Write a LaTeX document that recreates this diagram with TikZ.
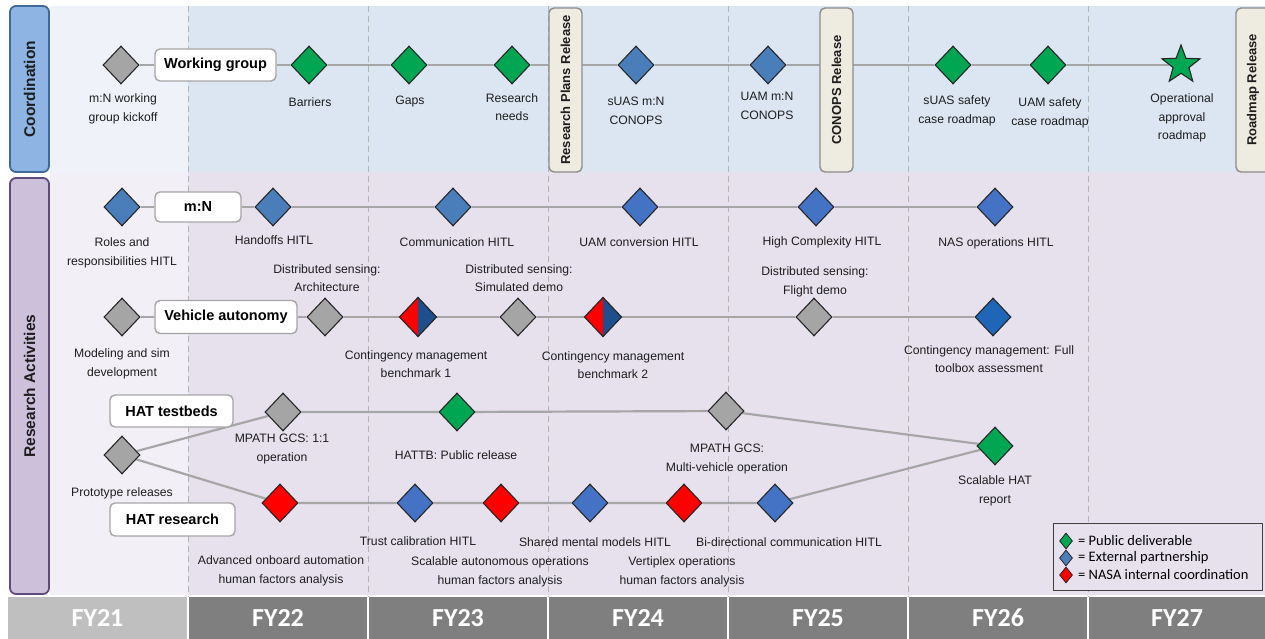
\documentclass[tikz,border=0pt]{standalone}
\usepackage{fontspec}
\setmainfont{Liberation Sans}
\newfontfamily\calib{Carlito}
\usetikzlibrary{shapes.geometric}
\pgfdeclarelayer{back}
\pgfdeclarelayer{lines}
\pgfsetlayers{back,lines,main}
\definecolor{coordFY}{HTML}{EFF2F8}
\definecolor{coordBg}{HTML}{DCE6F2}
\definecolor{resFY}{HTML}{F2F0F6}
\definecolor{resBg}{HTML}{E6E1ED}
\definecolor{coordfill}{HTML}{8DB4E2}
\definecolor{coordbd}{HTML}{41689A}
\definecolor{resfill}{HTML}{CCC0DA}
\definecolor{resbd}{HTML}{5F4B7B}
\definecolor{relfill}{HTML}{EEECE1}
\definecolor{relbd}{HTML}{8C8C8C}
\definecolor{tagbd}{HTML}{A6A6A6}
\definecolor{mgreen}{HTML}{00A651}
\definecolor{mblue}{HTML}{4A7EBB}
\definecolor{mblueb}{HTML}{4472C4}
\definecolor{mbluec}{HTML}{1F66B8}
\definecolor{mgray}{HTML}{A5A5A5}
\definecolor{mred}{HTML}{FF0000}
\definecolor{dblue}{HTML}{1F4E8C}
\definecolor{outl}{HTML}{262626}
\definecolor{lgray}{HTML}{A6A6A6}
\definecolor{dashc}{HTML}{B4B4B4}
\definecolor{txt}{HTML}{1E1E1E}
\definecolor{barlight}{HTML}{BFBFBF}
\definecolor{bardark}{HTML}{7F7F7F}
\definecolor{legbd}{HTML}{404040}
\newcommand{\lblfont}{\fontsize{12.2}{18.5}\selectfont}
\newcommand{\tagfont}{\bfseries\fontsize{14.5}{16}\selectfont}
\newcommand{\relfont}{\bfseries\fontsize{13}{15}\selectfont}
\newcommand{\sidefont}{\bfseries\fontsize{15.5}{17}\selectfont}
\newcommand{\fyfont}{\calib\bfseries\fontsize{26}{27}\selectfont}
\newcommand{\legfont}{\calib\fontsize{14.5}{16}\selectfont}
\begin{document}
\begin{tikzpicture}[x=1pt,y=-1pt,
  dia/.style={diamond, inner sep=0pt, minimum width=36pt, minimum height=38pt, draw=outl, line width=1.1pt},
  gd/.style={dia, fill=mgreen},
  bd/.style={dia, fill=mblue},
  bdb/.style={dia, fill=mblueb},
  yd/.style={dia, fill=mgray},
  rd/.style={dia, fill=mred},
  sd/.style={dia},
  lbl/.style={align=center, font=\lblfont, text=txt, inner sep=0pt},
  tag/.style={draw=tagbd, fill=white, line width=1.4pt, rounded corners=5pt, font=\tagfont, inner sep=0pt, text=black},
  rel/.style={draw=relbd, fill=relfill, line width=1.4pt, rounded corners=5pt, rotate=90, font=\relfont, inner sep=0pt, text=txt, minimum width=164pt},
  conn/.style={draw=lgray, line width=2.2pt},
  vdash/.style={draw=dashc, line width=1pt, dash pattern=on 6pt off 4pt},
  fycell/.style={inner sep=0pt, minimum height=42pt, text=white, font=\fyfont},
  side/.style={line width=1.8pt, rounded corners=6pt, rotate=90, inner sep=0pt, font=\sidefont, text=txt, minimum height=39pt},
  legd/.style={diamond, inner sep=0pt, minimum width=13pt, minimum height=16pt, draw=outl, line width=0.8pt},
  legt/.style={anchor=west, inner sep=0pt, font=\legfont, text=black}
]
\useasboundingbox (0,0) rectangle (1265,639);
% backgrounds
\begin{pgfonlayer}{back}
\fill[coordFY] (50,6) rectangle (188,172);
\fill[coordBg] (188,6) rectangle (1265,172);
\fill[resFY] (50,172) rectangle (188,595);
\fill[resBg] (188,172) rectangle (1265,595);
\foreach \xx in {188,368,548,728,908,1088} {\draw[vdash] (\xx,6) -- (\xx,597);}
\end{pgfonlayer}
% side labels
\node[side, draw=coordbd, fill=coordfill, minimum width=166pt] (coordlab) at (29.5,89) {Coordination};
\node[side, draw=resbd, fill=resfill, minimum width=416pt] (reslab) at (29.5,386) {Research Activities};
% year bar
\node[fycell, fill=barlight, minimum width=179pt] (fy21) at (97.5,618) {FY21};
\node[fycell, fill=bardark, minimum width=178pt] (fy22) at (278,618) {FY22};
\node[fycell, fill=bardark, minimum width=178pt] (fy23) at (458,618) {FY23};
\node[fycell, fill=bardark, minimum width=178pt] (fy24) at (638,618) {FY24};
\node[fycell, fill=bardark, minimum width=178pt] (fy25) at (818,618) {FY25};
\node[fycell, fill=bardark, minimum width=178pt] (fy26) at (998,618) {FY26};
\node[fycell, fill=bardark, minimum width=176pt] (fy27) at (1177,618) {FY27};
% release boxes
\node[rel, minimum height=33pt] (rpr) at (565.5,90) {Research Plans Release};
\node[rel, minimum height=33pt] (crel) at (836.5,90) {CONOPS Release};
\node[rel, minimum height=34pt] (rmrel) at (1253,90) {Roadmap Release};
% coordination row
\node[yd] (kick) at (121,65) {};
\node[tag, minimum width=121pt, minimum height=32pt] (wg) at (215.5,65) {Working group};
\node[gd] (bar) at (309,65) {};
\node[gd] (gaps) at (409,65) {};
\node[gd] (rneeds) at (512,65) {};
\node[bd] (suas) at (636,65) {};
\node[bd] (uam) at (768,65) {};
\node[gd] (suassafe) at (953,65) {};
\node[gd] (uamsafe) at (1048,65) {};
\node[star, star points=5, star point ratio=2.4, fill=mgreen, draw=outl, line width=1.1pt, minimum size=40pt, inner sep=0pt] (star) at (1181,65) {};
\node[lbl] (lkick) at (123,109) {m:N working\\group kickoff};
\node[lbl] (lbar) at (310,102) {Barriers};
\node[lbl] (lgaps) at (410,102) {Gaps};
\node[lbl] (lrneeds) at (512,107) {Research\\needs};
\node[lbl] (lsuas) at (636,111) {sUAS m:N\\CONOPS};
\node[lbl] (luam) at (767,106) {UAM m:N\\CONOPS};
\node[lbl] (lsuassafe) at (957,111) {sUAS safety\\case roadmap};
\node[lbl] (luamsafe) at (1050,113) {UAM safety\\case roadmap};
\node[lbl] (lstar) at (1182,118) {Operational\\approval\\roadmap};
% m:N row
\node[bd] (roles) at (122,207) {};
\node[tag, minimum width=86pt, minimum height=30pt] (mn) at (198,207) {m:N};
\node[bd] (hand) at (273,207) {};
\node[bd] (comm) at (453,207) {};
\node[bdb] (uamc) at (640,207) {};
\node[bdb] (high) at (816,207) {};
\node[bdb] (nas) at (995,207) {};
\node[lbl] (lroles) at (122,253) {Roles and\\responsibilities HITL};
\node[lbl] (lhand) at (274,240) {Handoffs HITL};
\node[lbl] (lcomm) at (457,242) {Communication HITL};
\node[lbl] (luamc) at (639,242) {UAM conversion HITL};
\node[lbl] (lhigh) at (822,242) {High Complexity HITL};
\node[lbl] (lnas) at (996,243) {NAS operations HITL};
% vehicle autonomy row
\node[yd] (model) at (122,317) {};
\node[tag, minimum width=142pt, minimum height=33pt] (va) at (226,317) {Vehicle autonomy};
\node[yd] (ds1) at (325,317) {};
\node[sd] (cm1) at (418,317) {};
\node[yd] (ds2) at (518,317) {};
\node[sd] (cm2) at (603,317) {};
\node[yd] (ds3) at (814,317) {};
\node[dia, fill=mbluec] (full) at (993,317) {};
\foreach \n in {cm1,cm2} {
  \fill[mred] (\n.north) -- (\n.west) -- (\n.south) -- cycle;
  \fill[dblue] (\n.north) -- (\n.east) -- (\n.south) -- cycle;
  \draw[outl, line width=1.1pt, line join=miter] (\n.north) -- (\n.east) -- (\n.south) -- (\n.west) -- cycle;
}
\node[lbl] (lds1) at (327,278) {Distributed sensing:\\Architecture};
\node[lbl] (lds2) at (519,278) {Distributed sensing:\\Simulated demo};
\node[lbl] (lds3) at (815,282) {Distributed sensing:\\Flight demo};
\node[lbl] (lmodel) at (122,364) {Modeling and sim\\development};
\node[lbl] (lcm1) at (416,364) {Contingency management\\benchmark 1};
\node[lbl] (lcm2) at (613,365) {Contingency management\\benchmark 2};
\node[lbl] (lfull) at (989,359) {Contingency management: Full\\toolbox assessment};
% HAT rows
\node[yd] (proto) at (122,455) {};
\node[tag, minimum width=123pt, minimum height=32pt] (hatt) at (171.5,411) {HAT testbeds};
\node[tag, minimum width=125pt, minimum height=33pt] (hatr) at (172.5,519.5) {HAT research};
\node[yd] (mp1) at (283,412) {};
\node[gd] (hattb) at (457,412) {};
\node[yd] (mp2) at (726,411) {};
\node[gd] (shat) at (995,446) {};
\node[rd] (r1) at (280,503) {};
\node[bdb] (t1) at (415,503) {};
\node[rd] (r2) at (501,503) {};
\node[bdb] (s1) at (590,503) {};
\node[rd] (r3) at (684,503) {};
\node[bdb] (b1) at (775,503) {};
\node[lbl] (lproto) at (122,493) {Prototype releases};
\node[lbl] (lmp1) at (282,449) {MPATH GCS: 1:1\\operation};
\node[lbl] (lhattb) at (456,455) {HATTB: Public release};
\node[lbl] (lmp2) at (727,459) {MPATH GCS:\\Multi-vehicle operation};
\node[lbl] (lshat) at (995,491) {Scalable HAT\\report};
\node[lbl] (lt1) at (418,541) {Trust calibration HITL};
\node[lbl] (ls1) at (595,542) {Shared mental models HITL};
\node[lbl] (lb1) at (789,542) {Bi-directional communication HITL};
\node[lbl] (lr1) at (281,571) {Advanced onboard automation\\human factors analysis};
\node[lbl] (lr2) at (500,572) {Scalable autonomous operations\\human factors analysis};
\node[lbl] (lr3) at (682,572) {Vertiplex operations\\human factors analysis};
% legend
\node[draw=legbd, fill=resBg, line width=1pt, minimum width=209pt, minimum height=67pt, inner sep=0pt] (leg) at (1157.5,556.5) {};
\node[legd, fill=mgreen] (lg1) at (1066,541) {};
\node[legd, fill=mblue] (lg2) at (1066,558) {};
\node[legd, fill=mred] (lg3) at (1066,575) {};
\node[legt] (lt1t) at (1078,541) {= Public deliverable};
\node[legt] (lt2t) at (1078,558) {= External partnership};
\node[legt] (lt3t) at (1078,575) {= NASA internal coordination};
% connectors
\begin{pgfonlayer}{lines}
\draw[conn] (kick) -- (wg) -- (bar) -- (gaps) -- (rneeds) -- (suas) -- (uam) -- (suassafe) -- (uamsafe) -- (star);
\draw[conn] (roles) -- (mn) -- (hand) -- (comm) -- (uamc) -- (high) -- (nas);
\draw[conn] (model) -- (va) -- (ds1) -- (cm1) -- (ds2) -- (cm2) -- (ds3) -- (full);
\draw[conn] (proto) -- (mp1) -- (hattb) -- (mp2) -- (shat);
\draw[conn] (proto) -- (r1) -- (t1) -- (r2) -- (s1) -- (r3) -- (b1) -- (shat);
\end{pgfonlayer}
\end{tikzpicture}
\end{document}
